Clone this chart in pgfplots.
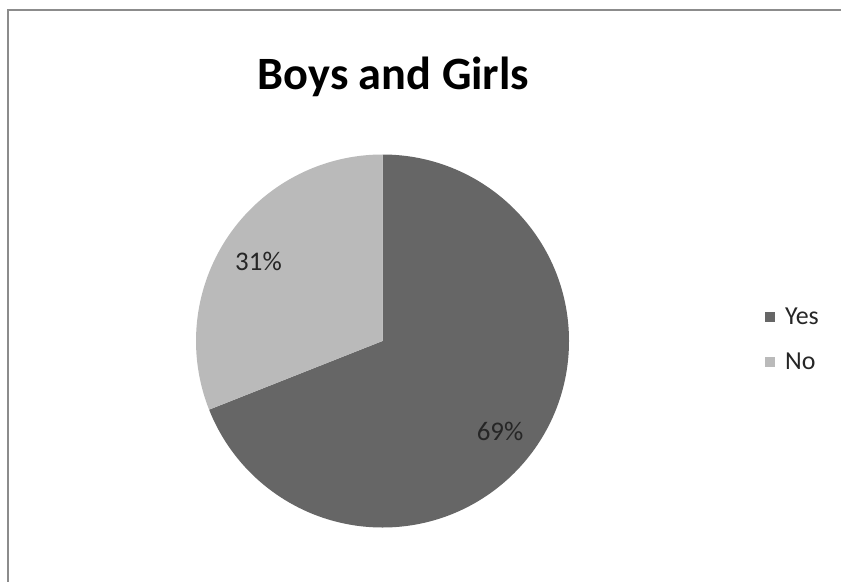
\documentclass[border=0pt]{standalone}
\usepackage{pgfplots}
\usepackage{pgfplotstable}
\pgfplotsset{compat=1.18}
\usepackage{fontspec}
\setmainfont{Carlito}
\definecolor{yescol}{RGB}{102,102,102}
\definecolor{nocol}{RGB}{186,186,186}
\definecolor{framecol}{RGB}{140,140,140}
\pgfplotstableread{
label value
Yes 69
No 31
}\piedata
\newcommand{\lf}{\fontsize{26}{28}\selectfont}
\begin{document}
\begin{tikzpicture}
\fill[white] (0bp,0bp) rectangle (841bp,-582bp);
\draw[framecol, line width=1.6bp] (8bp,-582bp) -- (8bp,-10bp) -- (841bp,-10bp);
\node[font=\fontsize{46.5}{50}\selectfont\bfseries, anchor=base] at (393.5bp,-89bp) {Boys and Girls};
\pgfplotstablegetelem{0}{value}\of\piedata \let\vyes\pgfplotsretval
\pgfplotstablegetelem{1}{value}\of\piedata \let\vno\pgfplotsretval
\pgfmathsetmacro{\aend}{90-3.6*\vyes}
\begin{axis}[
  at={(382.5bp,-341bp)}, anchor=center,
  scale only axis, width=373bp, height=373bp,
  xmin=-1, xmax=1, ymin=-1, ymax=1,
  hide axis, clip=false,
  legend style={at={(1.517,0.505)}, anchor=west, draw=none, fill=none,
    nodes={inner sep=0pt, text=black!85},
    row sep=27bp,
    /tikz/every odd column/.append style={column sep=10bp}},
  legend cell align=left,
  legend image code/.code={\fill[draw=none,#1] (0bp,-5bp) rectangle (10bp,5bp);},
]
\addlegendimage{draw=none,fill=yescol}
\addlegendentry{\lf Yes}
\addlegendimage{draw=none,fill=nocol}
\addlegendentry{\lf No}
\fill[yescol] (axis cs:0,0) -- (axis cs:0,1) arc[start angle=90, end angle=\aend, radius=186.5bp] -- cycle;
\fill[nocol] (axis cs:0,0) -- (axis cs:0,1) arc[start angle=90, end angle=\aend+360, radius=186.5bp] -- cycle;
\node[font=\fontsize{27}{30}\selectfont, text=black!85] at (axis cs:-0.665,0.424) {\vno\%};
\node[font=\fontsize{27}{30}\selectfont, text=black!85] at (axis cs:0.630,-0.483) {\vyes\%};
\end{axis}
\pgfresetboundingbox
\path[use as bounding box] (0bp,0bp) rectangle (841bp,-582bp);
\end{tikzpicture}
\end{document}
